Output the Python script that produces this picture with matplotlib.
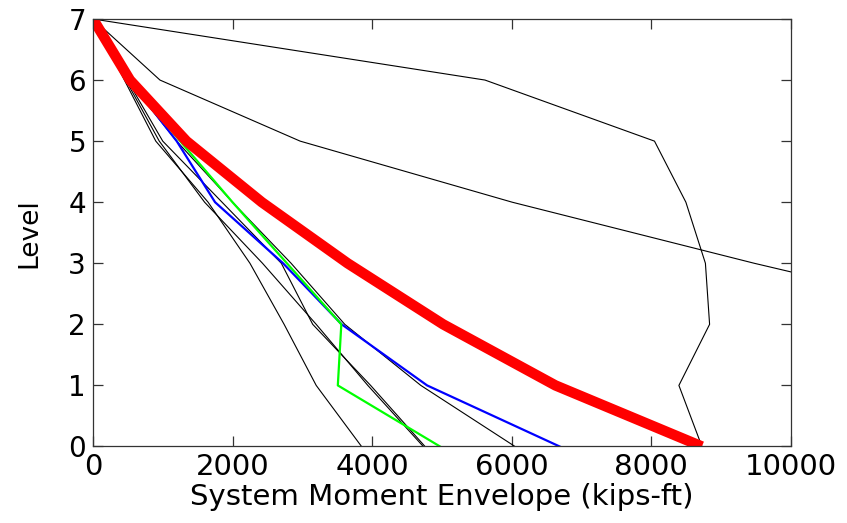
import matplotlib
matplotlib.use('Agg')
import matplotlib.pyplot as plt

# story level (0 = base, 7 = roof)
levels = [0, 1, 2, 3, 4, 5, 6, 7]

# system moment envelopes (kips-ft), listed from level 0 up to level 7
env_red = [8730, 6630, 5020, 3650, 2420, 1340, 530, 0]
env_blue = [6690, 4790, 3565, 2725, 1750, 1200, 520, 0]
env_green = [4975, 3510, 3560, 2780, 2000, 1250, 520, 0]

# thin black records
env_outer = [8730, 8400, 8840, 8780, 8500, 8050, 5620, 0]
env_long = [21000, 17000, 13200, 9480, 6010, 2970, 960, 0]
env_a = [3850, 3200, 2740, 2250, 1650, 900, 450, 0]
env_b = [4735, 3940, 3200, 2430, 1600, 950, 470, 0]
env_c = [4760, 3980, 3150, 2700, 1850, 1000, 490, 0]
env_d = [6050, 4700, 3610, 2840, 2000, 1200, 500, 0]

plt.rcParams['font.family'] = ['DejaVu Sans']

fig = plt.figure(figsize=(8.47, 5.23), dpi=100)
ax = fig.add_axes([0.1098, 0.1463, 0.8235, 0.8174])

for env in [env_outer, env_long, env_a, env_b, env_c, env_d]:
    ax.plot(env, levels, color='black', lw=0.8)
ax.plot(env_blue, levels, color='#0000ff', lw=1.6)
ax.plot(env_green, levels, color='#00ff00', lw=1.6)
ax.plot(env_red, levels, color='#ff0000', lw=7.5, solid_capstyle='butt')

ax.set_xlim(0, 10000)
ax.set_ylim(0, 7)
ax.set_xticks([0, 2000, 4000, 6000, 8000, 10000])
ax.set_yticks(range(8))
ax.tick_params(direction='in', top=True, right=True, length=7, width=0.9,
               color='#333333')
ax.tick_params(axis='x', labelsize=21, pad=5)
ax.tick_params(axis='y', labelsize=20, pad=5)
for s in ax.spines.values():
    s.set_color('#333333')
    s.set_linewidth(0.9)

ax.set_xlabel('System Moment Envelope (kips-ft)', fontsize=21)
ax.set_ylabel('Level', fontsize=19)
ax.xaxis.set_label_coords(0.5, -0.085)
ax.yaxis.set_label_coords(-0.072, 0.5)

fig.savefig('out.png', dpi=100)
